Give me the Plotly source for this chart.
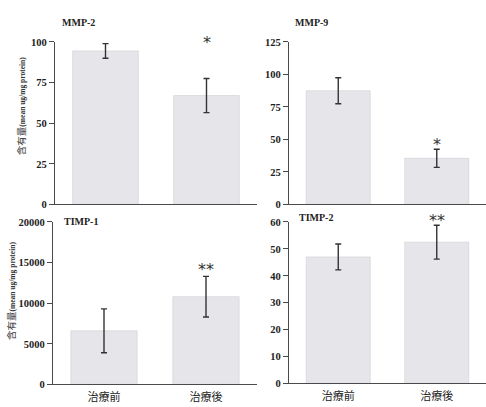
import plotly.graph_objects as go

categories = ["治療前", "治療後"]

panel_titles = ["MMP-2", "MMP-9", "TIMP-1", "TIMP-2"]
means = [
    [94.5, 67.0],
    [87.5, 35.5],
    [6600, 10800],
    [47.0, 52.5],
]
errors = [
    [4.5, 10.5],
    [10.0, 7.0],
    [2700, 2500],
    [4.8, 6.3],
]
sig_labels = [["", "*"], ["", "*"], ["", "**"], ["", "**"]]
sig_levels = [[None, 100], [None, 47], [None, 14300], [None, 61]]
y_max = [100, 125, 20000, 60]
y_dtick = [25, 25, 5000, 10]
ytitle_main = "含有量"
ytitle_sub = "(mean ug/mg protein)"

W, H = 486, 407
# panel pixel boxes: (x0, x1, ytop, ybottom)
boxes = [(55, 257, 38, 205), (289, 486, 38, 205), (53, 257, 223, 390), (289, 486, 223, 389)]

SERIF = "Liberation Serif"
CJK = "Noto Sans CJK JP"
AX = "#4a4a4a"

fig = go.Figure()
layout = dict(width=W, height=H, margin=dict(l=0, r=0, t=0, b=0),
              paper_bgcolor="white", plot_bgcolor="white", showlegend=False,
              annotations=[])

for i in range(4):
    xa = "x" if i == 0 else f"x{i+1}"
    ya = "y" if i == 0 else f"y{i+1}"
    x0, x1, yt, yb = boxes[i]
    fig.add_trace(go.Bar(
        x=categories, y=means[i], xaxis=xa, yaxis=ya, width=0.65,
        marker=dict(color="#e6e6ea", line=dict(color="#cfcfd4", width=0.6)),
        error_y=dict(type="data", array=errors[i], visible=True,
                     color="#333333", thickness=1.4, width=3),
    ))
    bottom = i >= 2
    layout["xaxis" if i == 0 else f"xaxis{i+1}"] = dict(
        domain=[x0 / W, x1 / W], anchor=ya, range=[-0.5, 1.5],
        showline=True, linecolor=AX, linewidth=1.3, ticks="",
        showticklabels=bottom, showgrid=False, zeroline=False,
        tickfont=dict(family=CJK, size=11, color="#222"),
        ticklabelstandoff=2,
    )
    layout["yaxis" if i == 0 else f"yaxis{i+1}"] = dict(
        domain=[(H - yb) / H, (H - yt) / H], anchor=xa, range=[0, y_max[i]],
        dtick=y_dtick[i], tickformat="d", showline=True, linecolor=AX, linewidth=1.3,
        ticks="outside", ticklen=5, tickcolor=AX, tickwidth=1,
        showgrid=False, zeroline=False,
        tickfont=dict(family=SERIF, size=10.5, color="#222", weight="bold"),
    )
    px_per_unit = (yb - yt) / y_max[i]
    for j in range(2):
        if sig_labels[i][j]:
            lvl = sig_levels[i][j]
            yv = min(lvl, y_max[i])
            layout["annotations"].append(dict(
                x=categories[j], y=yv, xref=xa, yref=ya,
                text=sig_labels[i][j], showarrow=False,
                font=dict(family="DejaVu Sans", size=16, color="#333"),
                yanchor="middle", yshift=(lvl - yv) * px_per_unit - 1,
            ))

# panel titles
title_pos = [(60, 18), (293, 18), (62, 223), (297, 218)]
for t, (tx, ty) in zip(panel_titles, title_pos):
    layout["annotations"].append(dict(
        x=tx / W, y=1 - ty / H, xref="paper", yref="paper", text=t,
        showarrow=False, xanchor="left", yanchor="middle",
        font=dict(family=SERIF, size=10, color="#222", weight="bold"),
    ))

# y-axis titles for left panels
for cx, cy in [(21, 104), (11, 294)]:
    layout["annotations"].append(dict(
        x=cx / W, y=1 - cy / H, xref="paper", yref="paper",
        text=f"{ytitle_main}<span style='font-family:{SERIF};font-size:7.5px;font-weight:bold'>{ytitle_sub}</span>",
        textangle=-90, showarrow=False, xanchor="center", yanchor="middle",
        font=dict(family=CJK, size=9.5, color="#333"),
    ))

fig.update_layout(**layout)
fig.write_html("out.html", config={"displayModeBar": False},
               post_script="document.body.style.margin='0';")
